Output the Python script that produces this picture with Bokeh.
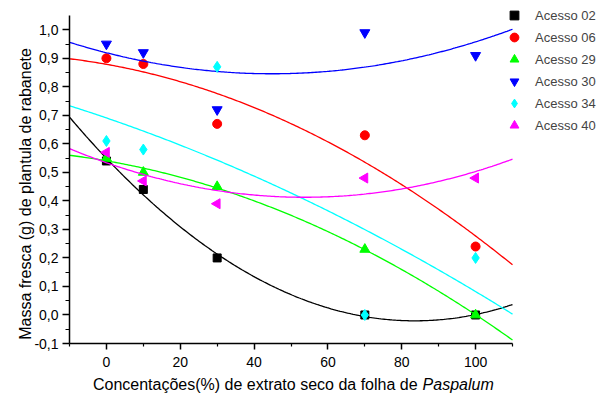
import numpy as np
from bokeh.plotting import figure
from bokeh.models import (FixedTicker, CustomJSTickFormatter, Legend, LegendItem,
                          Label, Range1d)
from bokeh.embed import file_html
from bokeh.resources import INLINE

# ---- data ----
conc = [0, 10, 30, 70, 100]
acesso02 = [0.54, 0.44, 0.20, 0.00, 0.00]
acesso06 = [0.90, 0.88, 0.67, 0.63, 0.24]
acesso29 = [0.55, 0.50, 0.45, 0.23, 0.00]
acesso30 = [0.95, 0.92, 0.72, 0.99, 0.91]
acesso34 = [0.61, 0.58, 0.87, 0.00, 0.20]
acesso40 = [0.57, 0.47, 0.39, 0.48, 0.48]
names = ["Acesso 02", "Acesso 06", "Acesso 29", "Acesso 30", "Acesso 34", "Acesso 40"]
x_major = [0, 20, 40, 60, 80, 100]
x_minor = [-10, 10, 30, 50, 70, 90, 110]
y_major = [-0.1, 0.0, 0.1, 0.2, 0.3, 0.4, 0.5, 0.6, 0.7, 0.8, 0.9, 1.0]
y_minor = [-0.05, 0.05, 0.15, 0.25, 0.35, 0.45, 0.55, 0.65, 0.75, 0.85, 0.95]
x_title = "Concentações(%) de extrato seco da folha de"
x_title_italic = "Paspalum"
y_title = "Massa fresca (g) de plantula de rabanete"

series = [acesso02, acesso06, acesso29, acesso30, acesso34, acesso40]
colors = ["#000000", "#FF0000", "#00FF00", "#0000FF", "#00FFFF", "#FF00FF"]
markers = ["square", "circle", "triangle", "inverted_triangle", "diamond", "triangle"]
angles = [0, 0, 0, 0, 0, np.pi / 2]
sizes = [8, 9, 10, 10, 11, 10]

FONT = "Liberation Sans"
X0, X1 = -10, 110
Y0, Y1 = -0.1, 1.05
W, H = 597, 394
FL, FR, FT, FB = 69, 512, 15, 343          # axis box in canvas pixels
xs_per = (X1 - X0) / (FR - FL)
ys_per = (Y1 - Y0) / (FB - FT)

p = figure(width=W, height=H, output_backend="svg", toolbar_location=None,
           x_range=Range1d(X0 - FL * xs_per, X1 + (W - FR) * xs_per),
           y_range=Range1d(Y0 - (H - FB) * ys_per, Y1 + FT * ys_per),
           min_border=0)
p.outline_line_color = None
p.grid.visible = False
p.background_fill_color = "white"

items = []
xs = np.linspace(X0, X1, 240)
for name, ys, c, m, a, s in zip(names, series, colors, markers, angles, sizes):
    coef = np.polyfit(conc, ys, 2)
    p.line(xs, np.polyval(coef, xs), line_color=c, line_width=1.3)
    r = p.scatter(conc, ys, marker=m, size=s, angle=a, fill_color=c, line_color=c)
    items.append(LegendItem(label=name, renderers=[r]))

legend = Legend(items=items, location=(503, 258), glyph_width=22, glyph_height=22,
                label_height=22, label_standoff=10, spacing=-6, padding=0, margin=0,
                border_line_color=None, background_fill_alpha=0,
                label_text_font=FONT, label_text_font_size="13px")
p.add_layout(legend, "center")

for ax in (p.xaxis[0], p.yaxis[0]):
    ax.axis_line_width = 1.5
    ax.major_tick_line_width = 1.5
    ax.minor_tick_line_width = 1.2
    ax.major_tick_in = 0
    ax.minor_tick_in = 0
    ax.major_label_text_font = FONT
    ax.major_label_text_font_size = "14px"
    ax.major_label_text_color = "black"

p.xaxis.major_tick_out = 6
p.xaxis.minor_tick_out = 3
p.yaxis.major_tick_out = 7
p.yaxis.minor_tick_out = 4
p.xaxis.fixed_location = Y0
p.yaxis.fixed_location = X0
p.xaxis.bounds = (X0, X1)
p.yaxis.bounds = (Y0, Y1)
p.xaxis.ticker = FixedTicker(ticks=x_major, minor_ticks=x_minor)
p.yaxis.ticker = FixedTicker(ticks=y_major, minor_ticks=y_minor)
p.yaxis.formatter = CustomJSTickFormatter(code="return tick.toFixed(1).replace('.', ',');")
p.xaxis.formatter = CustomJSTickFormatter(code="return tick.toFixed(0);")
p.xaxis.major_label_standoff = 7
p.yaxis.major_label_standoff = 4

p.add_layout(Label(x=85.64, y=-0.2455, text=x_title, text_align="right",
                   text_baseline="alphabetic", x_offset=-5,
                   text_font=FONT, text_font_size="16px", text_color="black"))
p.add_layout(Label(x=85.64, y=-0.2455, text=x_title_italic, text_align="left",
                   text_baseline="alphabetic", text_font_style="italic",
                   text_font=FONT, text_font_size="16px", text_color="black"))
p.add_layout(Label(x=-21.95, y=0.4243, text=y_title, angle=np.pi / 2,
                   text_align="center", text_baseline="alphabetic",
                   text_font=FONT, text_font_size="16px", text_color="black"))

open("out.html", "w").write(file_html(p, INLINE))
